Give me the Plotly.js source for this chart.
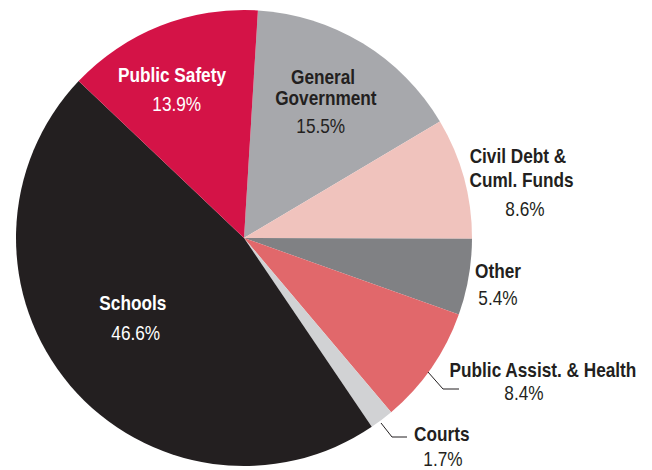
<!DOCTYPE html>
<html>
<head>
<meta charset="utf-8">
<script src="https://cdn.plot.ly/plotly-3.0.1.min.js"></script>
<style>
html,body{margin:0;padding:0;background:#fff}
#chart{width:652px;height:470px}
/* condensed look: narrow the label text horizontally around its centre */
#chart .annotation-text{transform-box:fill-box;transform-origin:center;transform:scaleX(0.82)}
</style>
</head>
<body>
<div id="chart"></div>
<script>
// Data (clockwise order starting just right of 12 o'clock)
const categories = ["General Government", "Civil Debt & Cuml. Funds", "Other", "Public Assist. & Health", "Courts", "Schools", "Public Safety"];
const shares = [15.5, 8.6, 5.4, 8.4, 1.7, 46.6, 13.9];
const sliceColors = ["#a7a8ac", "#f0c3bd", "#808184", "#e1686b", "#d1d2d4", "#231f20", "#d41347"];

// Label lines for each category
const labelNames = {
  "General Government": ["General", "Government"],
  "Civil Debt & Cuml. Funds": ["Civil Debt &", "Cuml. Funds"],
  "Other": ["Other"],
  "Public Assist. & Health": ["Public Assist. & Health"],
  "Courts": ["Courts"],
  "Schools": ["Schools"],
  "Public Safety": ["Public Safety"]
};
// Pixel placement of each label line (center x, center y) and text colour
const labelPlacement = {
  "General Government": {lines: [[323, 76], [326, 97]], pct: [321, 125], color: "#231f20"},
  "Civil Debt & Cuml. Funds": {lines: [[518, 155], [521, 179]], pct: [525, 208], color: "#231f20"},
  "Other": {lines: [[498, 270]], pct: [498, 297], color: "#231f20"},
  "Public Assist. & Health": {lines: [[543, 369]], pct: [524, 392], color: "#231f20"},
  "Courts": {lines: [[442, 433]], pct: [443, 458], color: "#231f20"},
  "Schools": {lines: [[133, 302]], pct: [136, 332], color: "#ffffff"},
  "Public Safety": {lines: [[172, 75]], pct: [177, 103], color: "#ffffff"}
};
const leaderLines = [
  [[428, 372], [443, 389], [459, 389]],
  [[381, 423], [392, 437], [407, 437]]
];

const W = 652, H = 470;
const px = x => x / W, py = y => 1 - y / H;
const FONT = '"Liberation Sans", Arial, sans-serif';

const annotations = [];
categories.forEach((c, i) => {
  const p = labelPlacement[c];
  labelNames[c].forEach((t, k) => {
    annotations.push({text: "<b>" + t + "</b>", x: px(p.lines[k][0]), y: py(p.lines[k][1]), xref: "paper", yref: "paper",
      xanchor: "center", yanchor: "middle", showarrow: false, font: {family: FONT, size: 21, color: p.color}});
  });
  annotations.push({text: shares[i].toFixed(1) + "%", x: px(p.pct[0]), y: py(p.pct[1]), xref: "paper", yref: "paper",
    xanchor: "center", yanchor: "middle", showarrow: false, font: {family: FONT, size: 21, color: p.color}});
});

const shapes = leaderLines.map(pts => ({
  type: "path", xref: "paper", yref: "paper",
  path: pts.map((q, k) => (k ? "L" : "M") + px(q[0]) + "," + py(q[1])).join(" "),
  line: {color: "#231f20", width: 1}
}));

const trace = {
  type: "pie",
  labels: categories,
  values: shares,
  sort: false,
  direction: "clockwise",
  rotation: 3.5,
  marker: {colors: sliceColors, line: {width: 0}},
  textinfo: "none",
  hoverinfo: "label+percent",
  showlegend: false,
  domain: {x: [16 / W, 472 / W], y: [1 - 466 / H, 1 - 10 / H]}
};

Plotly.newPlot("chart", [trace], {
  width: W, height: H,
  margin: {l: 0, r: 0, t: 0, b: 0},
  paper_bgcolor: "#ffffff",
  showlegend: false,
  annotations: annotations,
  shapes: shapes
}, {displayModeBar: false, staticPlot: true});
</script>
</body>
</html>
